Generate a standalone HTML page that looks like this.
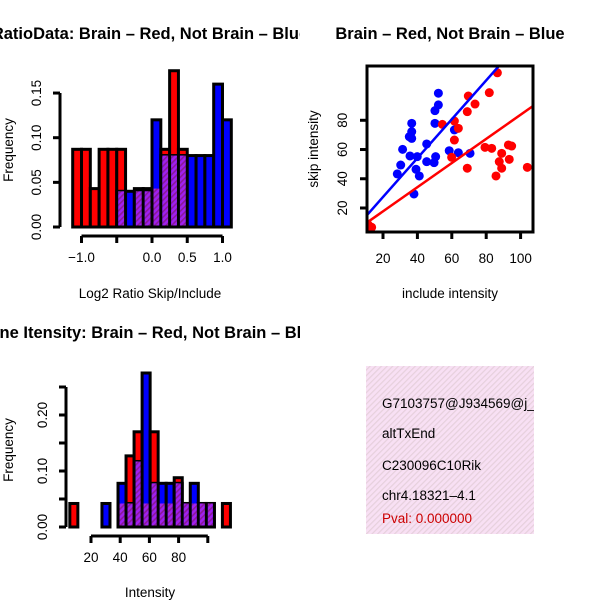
<!DOCTYPE html>
<html><head><meta charset="utf-8"><style>
html,body{margin:0;padding:0;background:#fff;}
svg{display:block;font-family:"Liberation Sans",sans-serif;}
</style></head><body>
<svg id="c" width="600" height="600" viewBox="0 0 600 600">
<defs>
<pattern id="purp" width="4" height="4" patternUnits="userSpaceOnUse" patternTransform="rotate(45)">
<rect width="4" height="4" fill="#a020f0"/><rect width="1.6" height="4" fill="#8a1a9a"/></pattern>
<pattern id="pink" width="4" height="4" patternUnits="userSpaceOnUse" patternTransform="rotate(45)">
<rect width="4" height="4" fill="#f8e0f4"/><rect width="1.2" height="4" fill="#e6d0dc"/></pattern>
<clipPath id="cl"><rect x="366" y="366" width="168" height="168"/></clipPath>
<clipPath id="sclip"><rect x="367" y="66" width="166" height="166"/></clipPath>
<clipPath id="lclip"><rect x="0" y="0" width="300" height="600"/></clipPath>
</defs>
</svg>
<script>
// ---- Ratio histogram data ----
const ratioBinStart = -1.125, ratioBinWidth = 0.125;
const ratioRed  = [0.087,0.087,0.043,0.087,0.087,0.087,0,0.043,0.043,0.043,0.087,0.175,0.087,0,0,0,0,0];
const ratioBlue = [0,0,0,0,0,0.04,0.04,0.04,0.04,0.12,0.08,0.08,0.08,0.08,0.08,0.08,0.16,0.12];
const ratioYTicks = [0,0.05,0.10,0.15];
const ratioYLabels = ["0.00","0.05","0.10","0.15"];
const ratioXTicks = [-1.0,-0.5,0.0,0.5,1.0];
const ratioXLabels = ["−1.0","","0.0","0.5","1.0"];
// ---- Scatter data ----
const blueX = [52.2,52.2,50.2,50.2,36.7,36.7,35.3,36.7,61.5,45.4,31.4,35.7,39.9,50.6,45.4,49.7,58.5,63.8,70.6,30.3,39.2,28.3,41.1,38.0];
const blueY = [98.5,90.5,86.6,77.9,77.9,72.2,68.8,67.6,73.4,63.8,60.1,55.6,55.1,55.1,51.7,51.0,59.2,57.8,57.4,49.4,46.5,43.3,41.9,29.6];
const redX = [86.5,81.8,69.6,73.5,69.0,54.5,61.5,63.8,61.5,79.3,83.2,92.9,94.8,89.0,93.4,87.6,89.0,85.7,103.9,69.0,59.9,13.4,11.5];
const redY = [112.5,98.9,96.6,91.1,85.9,77.2,79.5,74.5,66.5,61.5,60.8,63.1,62.4,57.4,53.3,51.7,47.2,41.9,47.8,47.2,54.7,6.8,8.4];
const blueFit = [0.9,1.33];  // intercept, slope
const redFit = [1.2,0.826];
const scXTicks = [20,40,60,80,100];
const scYTicks = [20,40,60,80];
// ---- Intensity histogram data ----
const intBinStart = 5.5, intBinWidth = 5.5;
const intRed  = [0.042,0,0,0,0,0,0.042,0.127,0.17,0.042,0.17,0.042,0.042,0.088,0.042,0.042,0.042,0.042,0,0.042];
const intBlue = [0,0,0,0,0.042,0,0.078,0.042,0.117,0.275,0.078,0.078,0.078,0.078,0.042,0.078,0.042,0.042,0,0];
const intYTicks = [0,0.05,0.10,0.15,0.20,0.25];
const intYLabels = ["0.00","","0.10","","0.20",""];
const intXTicks = [20,40,60,80,100];
const intXLabels = ["20","40","60","80",""];
const infoLines = ["G7103757@J934569@j_at","altTxEnd","C230096C10Rik","chr4.18321–4.1","Pval: 0.000000"];

const svg = document.getElementById('c');
const NS = 'http://www.w3.org/2000/svg';
const FS = 13.5;
function mk(tag, attrs, parent){const e=document.createElementNS(NS,tag);for(const k in attrs)e.setAttribute(k,attrs[k]);(parent||svg).appendChild(e);return e;}
function txt(s, attrs){const e=mk('text',attrs);e.textContent=s;return e;}
function grp(){return mk('g',{});}

const rx = v => 152 + v*70.5, ry = v => 227 - v*893;
function drawHist(binStart,bw,red,blue,xf,yf,name){
  const g=grp();
  
  
  for(let i=0;i<red.length;i++){
    const x0=xf(binStart+i*bw), x1=xf(binStart+(i+1)*bw);
    const r=red[i], b=blue[i];
    if(r>0){const e=mk('rect',{x:x0,y:yf(r),width:x1-x0,height:yf(0)-yf(r),fill:'#ff0000',stroke:'#000','stroke-width':3},g);
      
      }
    if(b>0){const e=mk('rect',{x:x0,y:yf(b),width:x1-x0,height:yf(0)-yf(b),fill:'#0000ff',stroke:'#000','stroke-width':3},g);
      
      }
  }
  for(let i=0;i<red.length;i++){
    const m=Math.min(red[i],blue[i]); if(m<=0) continue;
    const x0=xf(binStart+i*bw), x1=xf(binStart+(i+1)*bw);
    const e=mk('rect',{x:x0+1.5,y:yf(m),width:x1-x0-3,height:yf(0)-yf(m)-1.5,fill:'url(#purp)'},g);
    
    
  }
}
drawHist(ratioBinStart,ratioBinWidth,ratioRed,ratioBlue,rx,ry,'ratio-histogram-bars');
function yAxis(x,ticks,labels,yf,name){
  const g=grp();
  
  
  mk('line',{x1:x,x2:x,y1:yf(ticks[0]),y2:yf(ticks[ticks.length-1]),stroke:'#000','stroke-width':3},g);
  ticks.forEach((t,i)=>{mk('line',{x1:x-7,x2:x,y1:yf(t),y2:yf(t),stroke:'#000','stroke-width':3},g);
    if(labels[i]){const e=txt(labels[i],{x:x-19,y:yf(t),'font-size':FS,'text-anchor':'middle',transform:`rotate(-90 ${x-19} ${yf(t)})`});g.appendChild(e);}});
}
function xAxis(y,ticks,labels,xf,name){
  const g=grp();
  
  
  mk('line',{x1:xf(ticks[0]),x2:xf(ticks[ticks.length-1]),y1:y,y2:y,stroke:'#000','stroke-width':3},g);
  ticks.forEach((t,i)=>{mk('line',{x1:xf(t),x2:xf(t),y1:y,y2:y+7,stroke:'#000','stroke-width':3},g);
    if(labels[i]){const e=txt(labels[i],{x:xf(t),y:y+26,'font-size':FS,'text-anchor':'middle'});g.appendChild(e);}});
}
yAxis(60,ratioYTicks,ratioYLabels,ry,'ratio-y-axis');
xAxis(236,ratioXTicks,ratioXLabels,rx,'ratio-x-axis');
let t;
t=txt('RatioData: Brain – Red, Not Brain – Blue',{x:150,y:39,'font-size':16.5,'font-weight':'bold','text-anchor':'middle','clip-path':'url(#lclip)'});

t=txt('Frequency',{x:13,y:150,'font-size':FS,'text-anchor':'middle',transform:'rotate(-90 13 150)'});

t=txt('Log2 Ratio Skip/Include',{x:150,y:298,'font-size':FS,'text-anchor':'middle'});


// ===== Panel 2: scatter =====
const sx = v => 383 + (v-20)*1.72, sy = v => 208 - (v-20)*1.462;
const sg=grp();


blueX.forEach((x,i)=>{const e=mk('circle',{cx:sx(x),cy:sy(blueY[i]),r:4.5,fill:'#0000ff'},sg);
  });
redX.forEach((x,i)=>{const e=mk('circle',{cx:sx(x),cy:sy(redY[i]),r:4.5,fill:'#ff0000','clip-path':'url(#sclip)'},sg);
  });
function fit(c,col,name){const x0=5,x1=120;
  const e=mk('line',{x1:sx(x0),y1:sy(c[0]+c[1]*x0),x2:sx(x1),y2:sy(c[0]+c[1]*x1),stroke:col,'stroke-width':2.5,'clip-path':'url(#sclip)'});
  }
fit(blueFit,'#0000ff','blue-fit-line');
fit(redFit,'#ff0000','red-fit-line');
t=mk('rect',{x:367,y:66,width:166,height:166,fill:'none',stroke:'#000','stroke-width':3});

(function(){const g=grp();
  scXTicks.forEach(v=>{mk('line',{x1:sx(v),x2:sx(v),y1:232,y2:239,stroke:'#000','stroke-width':3},g);
  g.appendChild(txt(String(v),{x:sx(v),y:263,'font-size':FS,'text-anchor':'middle'}));});})();
(function(){const g=grp();
  scYTicks.forEach(v=>{mk('line',{x1:360,x2:367,y1:sy(v),y2:sy(v),stroke:'#000','stroke-width':3},g);
  g.appendChild(txt(String(v),{x:347,y:sy(v),'font-size':FS,'text-anchor':'middle',transform:`rotate(-90 347 ${sy(v)})`}));});})();
t=txt('Brain – Red, Not Brain – Blue',{x:450,y:39,'font-size':16.5,'font-weight':'bold','text-anchor':'middle'});

t=txt('include intensity',{x:450,y:298,'font-size':FS,'text-anchor':'middle'});

t=txt('skip intensity',{x:318,y:149,'font-size':FS,'text-anchor':'middle',transform:'rotate(-90 318 149)'});


// ===== Panel 3: intensity histogram =====
const ix = v => 91 + (v-20)*1.46, iy = v => 527 - v*560;
drawHist(intBinStart,intBinWidth,intRed,intBlue,ix,iy,'intensity-histogram-bars');
yAxis(66,intYTicks,intYLabels,iy,'intensity-y-axis');
xAxis(536,intXTicks,intXLabels,ix,'intensity-x-axis');
t=txt('Gene Itensity: Brain – Red, Not Brain – Blue',{x:149,y:338,'font-size':16.5,'font-weight':'bold','text-anchor':'middle','clip-path':'url(#lclip)'});

t=txt('Frequency',{x:13,y:450,'font-size':FS,'text-anchor':'middle',transform:'rotate(-90 13 450)'});

t=txt('Intensity',{x:150,y:597,'font-size':FS,'text-anchor':'middle'});


// ===== Panel 4: info box =====
const ig=grp();


mk('rect',{x:366,y:366,width:168,height:168,fill:'url(#pink)'},ig);
const ys=[408,438,470,500,523];
infoLines.forEach((s,i)=>{const e=txt(s,{x:382,y:ys[i],'font-size':FS,fill:i===4?'#cc0000':'#000','clip-path':'url(#cl)'});
  ig.appendChild(e);
  
  });
</script>
</body></html>
